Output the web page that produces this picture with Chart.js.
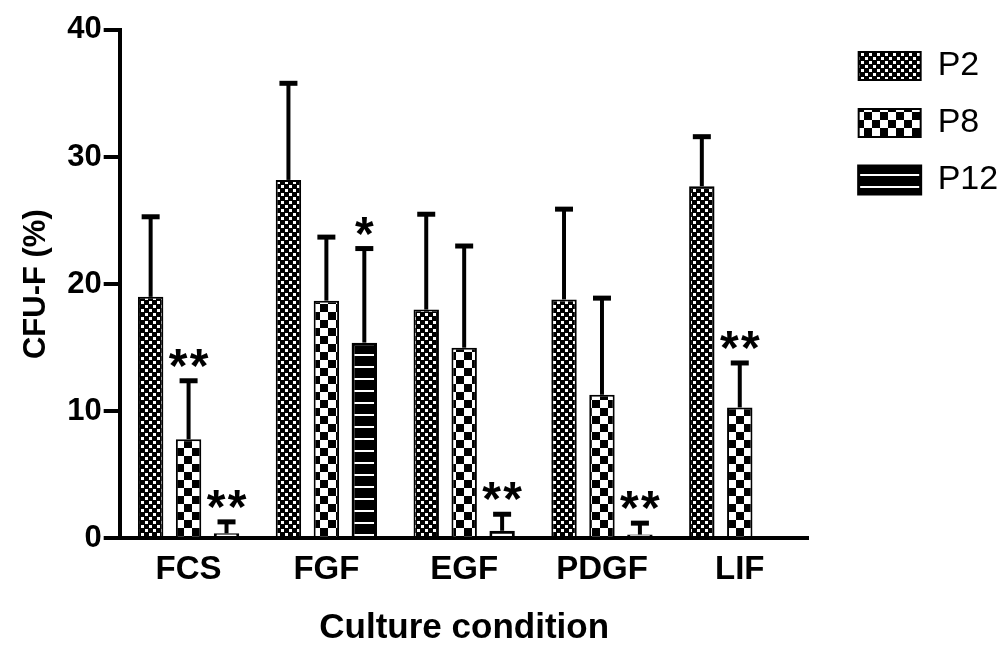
<!DOCTYPE html>
<html>
<head>
<meta charset="utf-8">
<script src="https://cdn.jsdelivr.net/npm/chart.js@4.4.0/dist/chart.umd.min.js"></script>
<style>
  html, body { margin: 0; padding: 0; background: #fff; }
  #wrap { width: 1005px; height: 652px; }
</style>
</head>
<body>
<div id="wrap"><canvas id="Chart"></canvas></div>
<script>
// values (CFU-F %, mean and upper SD)
const categories = ['FCS', 'FGF', 'EGF', 'PDGF', 'LIF'];
const seriesNames = ['P2', 'P8', 'P12'];

const p2Values = [19.0, 28.2, 18.0, 18.8, 27.7];
const p2Errors = [6.3, 7.6, 7.5, 7.1, 3.9];
const p2Stars = ['', '', '', '', ''];

const p8Values = [7.8, 18.7, 15.0, 11.3, 10.3];
const p8Errors = [4.6, 5.0, 8.0, 7.6, 3.5];
const p8Stars = ['**', '', '', '', '**'];

const p12Values = [0.4, 15.4, 0.6, 0.3, 0];
const p12Errors = [0.9, 7.4, 1.3, 0.9, 0];
const p12Stars = ['**', '*', '**', '**', ''];

const yTicks = [0, 10, 20, 30, 40];

const FONT = "'Liberation Sans', Arial, sans-serif";

// fill patterns for the bars
function makePattern(kind) {
    const c = document.createElement('canvas');
    const g = c.getContext('2d');
    if (kind === 'dots') {
        c.width = 8; c.height = 8;
        g.fillStyle = '#000'; g.fillRect(0, 0, 8, 8);
        g.fillStyle = '#fff';
        g.fillRect(1, 1, 3, 3);
        g.fillRect(5, 5, 3, 3);
    } else if (kind === 'checker') {
        c.width = 16; c.height = 16;
        g.fillStyle = '#fff'; g.fillRect(0, 0, 16, 16);
        g.fillStyle = '#000';
        g.fillRect(0, 0, 8, 8);
        g.fillRect(8, 8, 8, 8);
    } else {
        c.width = 8; c.height = 12;
        g.fillStyle = '#000'; g.fillRect(0, 0, 8, 12);
        g.fillStyle = '#fff';
        g.fillRect(0, 6, 8, 2);
    }
    return g.createPattern(c, 'repeat');
}

const errorBars = {
    id: 'errorBars',
    afterDatasetsDraw(chart) {
        const ctx = chart.ctx;
        const yScale = chart.scales.y;
        ctx.save();
        ctx.strokeStyle = '#000';
        ctx.fillStyle = '#000';
        chart.data.datasets.forEach((ds, i) => {
            const meta = chart.getDatasetMeta(i);
            meta.data.forEach((bar, j) => {
                const err = ds.errors[j];
                const top = yScale.getPixelForValue(ds.data[j] + err);
                if (err > 0) {
                    ctx.lineWidth = 4;
                    ctx.beginPath();
                    ctx.moveTo(bar.x, bar.y);
                    ctx.lineTo(bar.x, top);
                    ctx.stroke();
                    ctx.lineWidth = 5;
                    ctx.beginPath();
                    ctx.moveTo(bar.x - 9, top);
                    ctx.lineTo(bar.x + 9, top);
                    ctx.stroke();
                }
                const stars = ds.stars[j];
                if (stars) {
                    ctx.font = 'bold 48px ' + FONT;
                    ctx.textAlign = 'center';
                    ctx.textBaseline = 'alphabetic';
                    for (let k = 0; k < stars.length; k++) {
                        const sx = bar.x + (k - (stars.length - 1) / 2) * 21;
                        ctx.fillText('*', sx, top + 1);
                    }
                }
            });
        });
        ctx.restore();
    }
};

Chart.defaults.font.family = FONT;
Chart.defaults.color = '#000';

const ctx = document.getElementById('Chart');

new Chart(ctx, {
    type: 'bar',
    data: {
        labels: categories,
        datasets: [{
            label: seriesNames[0],
            data: p2Values,
            errors: p2Errors,
            stars: p2Stars,
            backgroundColor: makePattern('dots'),
            borderColor: '#000',
            borderWidth: 2
        }, {
            label: seriesNames[1],
            data: p8Values,
            errors: p8Errors,
            stars: p8Stars,
            backgroundColor: makePattern('checker'),
            borderColor: '#000',
            borderWidth: 2
        }, {
            label: seriesNames[2],
            data: p12Values,
            errors: p12Errors,
            stars: p12Stars,
            backgroundColor: makePattern('lines'),
            borderColor: '#000',
            borderWidth: 3
        }]
    },
    options: {
        responsive: true,
        maintainAspectRatio: false,
        animation: false,
        categoryPercentage: 0.826,
        barPercentage: 0.67,
        layout: {
            padding: { top: 26, left: 14, right: 5, bottom: 3 }
        },
        plugins: {
            tooltip: { enabled: false },
            legend: {
                position: 'right',
                align: 'start',
                labels: {
                    boxWidth: 62,
                    boxHeight: 28,
                    padding: 23,
                    color: '#000',
                    font: { size: 34 }
                }
            }
        },
        scales: {
            x: {
                grid: { display: false, drawTicks: false },
                border: { display: true, width: 4, color: '#000' },
                ticks: { font: { size: 33, weight: 'bold' }, padding: 12, color: '#000' },
                title: {
                    display: true,
                    text: 'Culture condition',
                    font: { size: 35, weight: 'bold' },
                    padding: { top: 5, bottom: 0 },
                    color: '#000'
                }
            },
            y: {
                min: 0,
                max: 40,
                afterBuildTicks: s => { s.ticks = yTicks.map(v => ({ value: v })); },
                grid: {
                    drawOnChartArea: false,
                    drawTicks: true,
                    tickLength: 16,
                    lineWidth: 4,
                    color: '#000'
                },
                border: { display: true, width: 4, color: '#000' },
                ticks: { font: { size: 31, weight: 'bold', lineHeight: 1.8 }, padding: 2, color: '#000' },
                title: {
                    display: true,
                    text: 'CFU-F (%)',
                    font: { size: 31, weight: 'bold' },
                    padding: { top: 4, bottom: 10 },
                    color: '#000'
                }
            },
            spacer: {
                type: 'linear',
                position: 'right',
                display: true,
                grid: { display: false, drawTicks: false },
                border: { display: false },
                ticks: { display: false },
                afterFit: s => { s.width = 27; }
            }
        }
    },
    plugins: [errorBars]
});
</script>
</body>
</html>
